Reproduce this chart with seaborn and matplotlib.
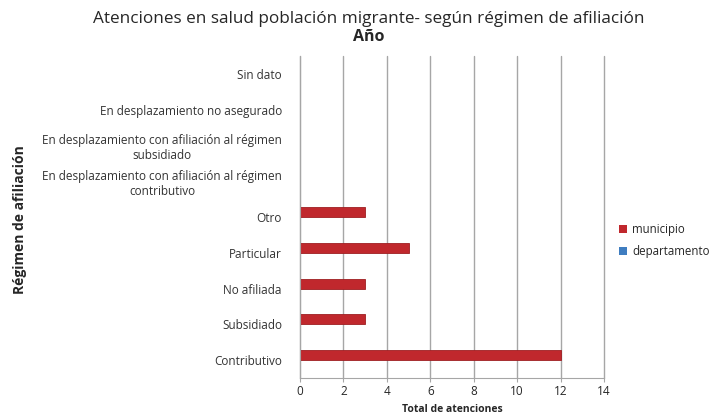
import matplotlib
matplotlib.use("Agg")
import matplotlib.pyplot as plt
import seaborn as sns
import pandas as pd
from matplotlib.patches import Patch

categorias = [
    "Sin dato",
    "En desplazamiento no asegurado",
    "En desplazamiento con afiliación al régimen\nsubsidiado",
    "En desplazamiento con afiliación al régimen\ncontributivo",
    "Otro",
    "Particular",
    "No afiliada",
    "Subsidiado",
    "Contributivo",
]
municipio = [0, 0, 0, 0, 3, 5, 3, 3, 12]
departamento = [0, 0, 0, 0, 0, 0, 0, 0, 0]
series = ["municipio", "departamento"]
colores = ["#C0282D", "#3F7DC0"]
xticks = [0, 2, 4, 6, 8, 10, 12, 14]

df = pd.DataFrame({
    "categoria": categorias * 2,
    "valor": municipio + departamento,
    "serie": [series[0]] * len(categorias) + [series[1]] * len(categorias),
})

sns.set_style("white")
plt.rcParams["font.family"] = ["Open Sans", "DejaVu Sans"]

fig = plt.figure(figsize=(7.25, 4.15), dpi=100)
ax = fig.add_axes([300 / 725, 1 - 378 / 415, 304 / 725, 322 / 415])

sns.barplot(data=df, y="categoria", x="valor", hue="serie", orient="h",
            order=categorias, hue_order=series, palette=colores, saturation=1,
            width=0.56, ax=ax, legend=False, edgecolor="#9E1E22", linewidth=0.6)

ax.set_xlim(0, 14)
ax.set_xticks(xticks)
ax.set_xticklabels([str(t) for t in xticks], fontsize=8.5)
ax.xaxis.grid(True, color="#A6A6A6", linewidth=1.0)
for gl in ax.get_xgridlines():
    gl.set_clip_on(False)
ax.yaxis.grid(False)
ax.set_axisbelow(True)
for s in ["top", "right"]:
    ax.spines[s].set_visible(False)
ax.spines["left"].set_color("#A6A6A6")
ax.spines["bottom"].set_color("#A6A6A6")
ax.tick_params(axis="x", length=3, color="#A6A6A6", pad=2, bottom=True)
ax.tick_params(axis="y", length=0, pad=13)
for lbl in ax.get_yticklabels():
    lbl.set_fontsize(8.5)
    lbl.set_multialignment("center")
    lbl.set_color("#333333")

ax.set_xlabel("Total de atenciones", fontsize=7.5, fontweight="bold", labelpad=4)
ax.set_ylabel("")
fig.text(0.027, 0.47, "Régimen de afiliación", rotation=90, ha="center", va="center",
         rotation_mode="anchor", fontsize=10, fontweight="bold",
         family=["Liberation Sans Narrow", "Open Sans", "DejaVu Sans"])

fig.text(0.508, 0.955, "Atenciones en salud población migrante- según régimen de afiliación",
         ha="center", va="center", fontsize=12.3)
fig.text(0.508, 0.91, "Año", ha="center", va="center", fontsize=11.5, fontweight="bold")

handles = [Patch(facecolor=c, edgecolor="none") for c in colores]
fig.legend(handles, series, loc="center left", bbox_to_anchor=(0.84, 0.42),
           frameon=False, fontsize=8.3, handlelength=0.7, handleheight=0.7,
           handletextpad=0.4, labelspacing=0.8)

fig.savefig("out.png", dpi=100)
